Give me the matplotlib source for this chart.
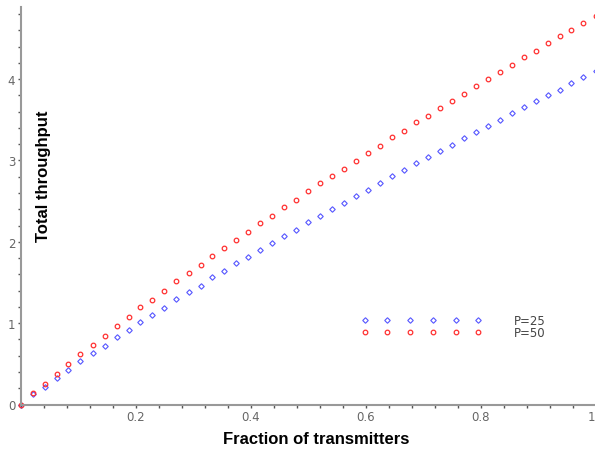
import matplotlib
matplotlib.use("Agg")
import matplotlib.pyplot as plt
from matplotlib.ticker import MultipleLocator, FixedLocator

# fraction of transmitters (k/48)
frac = [0.0, 0.021, 0.042, 0.063, 0.083, 0.104, 0.125, 0.146, 0.167, 0.188,
        0.208, 0.229, 0.25, 0.271, 0.292, 0.313, 0.333, 0.354, 0.375, 0.396,
        0.417, 0.438, 0.458, 0.479, 0.5, 0.521, 0.542, 0.563, 0.583, 0.604,
        0.625, 0.646, 0.667, 0.688, 0.708, 0.729, 0.75, 0.771, 0.792, 0.813,
        0.833, 0.854, 0.875, 0.896, 0.917, 0.938, 0.958, 0.979, 1.0]

thr_p25 = [0, 0.125, 0.211, 0.322, 0.428, 0.531, 0.633, 0.723, 0.826, 0.919,
           1.020, 1.100, 1.190, 1.297, 1.379, 1.460, 1.563, 1.637, 1.739, 1.809,
           1.903, 1.981, 2.075, 2.149, 2.240, 2.321, 2.403, 2.473, 2.567, 2.640,
           2.723, 2.805, 2.886, 2.965, 3.039, 3.120, 3.194, 3.276, 3.346, 3.427,
           3.501, 3.580, 3.653, 3.727, 3.805, 3.870, 3.956, 4.022, 4.096]

thr_p50 = [0, 0.145, 0.252, 0.375, 0.498, 0.621, 0.735, 0.846, 0.961, 1.072,
           1.195, 1.288, 1.399, 1.514, 1.616, 1.715, 1.829, 1.920, 2.022, 2.117,
           2.227, 2.321, 2.424, 2.514, 2.621, 2.723, 2.805, 2.895, 2.997, 3.088,
           3.181, 3.285, 3.366, 3.469, 3.550, 3.641, 3.727, 3.817, 3.911, 4.001,
           4.083, 4.177, 4.268, 4.349, 4.440, 4.526, 4.607, 4.686, 4.779]

xticks = [0.2, 0.4, 0.6, 0.8, 1]
xtick_labels = ["0.2", "0.4", "0.6", "0.8", "1"]
yticks = [0, 1, 2, 3, 4]

W, H = 595, 452
fig = plt.figure(figsize=(W / 100, H / 100), dpi=100)
x0, x1 = 20.7, 595.5
y0, y1 = 405.5, 8
ax = fig.add_axes([x0 / W, (H - y0) / H, (x1 - x0) / W, (y0 - y1) / H])

ax.plot(frac, thr_p25, linestyle="none", marker="D", markersize=2.8,
        markerfacecolor="none", markeredgecolor="#5555ff", markeredgewidth=0.8,
        label="P=25", clip_on=False)
ax.plot(frac, thr_p50, linestyle="none", marker="o", markersize=3.3,
        markerfacecolor="none", markeredgecolor="#ff3030", markeredgewidth=0.9,
        label="P=50", clip_on=False)

ax.set_xlim(0, 1)
ax.set_ylim(0, 4.886)

for s in ["top", "right"]:
    ax.spines[s].set_visible(False)
for s in ["left", "bottom"]:
    ax.spines[s].set_color("#999999")
    ax.spines[s].set_linewidth(1.5)

ax.xaxis.set_major_locator(FixedLocator(xticks))
ax.set_xticklabels(xtick_labels)
ax.get_xticklabels()[-1].set_ha("right")
ax.xaxis.set_minor_locator(MultipleLocator(0.04))
ax.yaxis.set_major_locator(FixedLocator(yticks))
ax.yaxis.set_minor_locator(MultipleLocator(0.2))
ax.tick_params(which="both", direction="out", length=2, width=1,
               color="#555555", labelcolor="#666666", labelsize=8.5, pad=2)

ax.set_xlabel("Fraction of transmitters", fontsize=12, fontweight="bold",
              family="Liberation Sans", va="center")
ax.xaxis.set_label_coords((316.5 - x0) / (x1 - x0), (y0 - 440) / (y0 - y1))
ax.set_ylabel("Total throughput", fontsize=12, fontweight="bold",
              family="Liberation Sans", va="center", ha="center")
ax.yaxis.set_label_coords((44 - x0) / (x1 - x0), (y0 - 176) / (y0 - y1))

leg = ax.legend(loc="upper left",
                bbox_to_anchor=((361 - x0) / (x1 - x0), (y0 - 315) / (y0 - y1)),
                frameon=False, numpoints=6, handlelength=10.25,
                handletextpad=2.7, fontsize=8.5, labelspacing=-0.1,
                borderpad=0, borderaxespad=0)
for t in leg.get_texts():
    t.set_color("#444444")

fig.savefig("out.png", dpi=100)
